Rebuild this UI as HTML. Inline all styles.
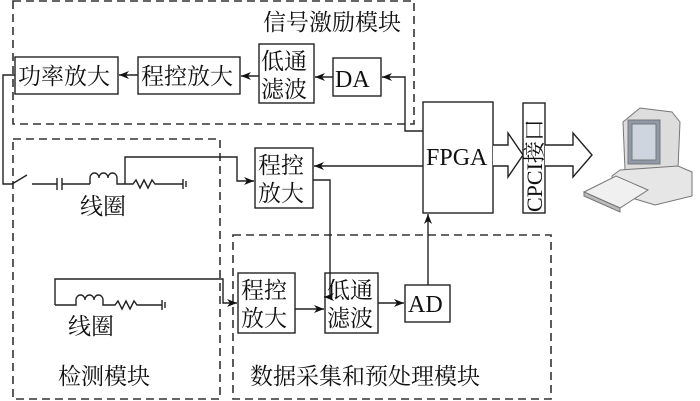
<!DOCTYPE html>
<html><head><meta charset="utf-8"><style>
body{margin:0;background:#fff}
svg{display:block}
text{font-family:"Liberation Serif","Noto Serif CJK SC",serif;fill:#111}
</style></head><body>
<svg width="700" height="401" viewBox="0 0 700 401" xmlns="http://www.w3.org/2000/svg">
<defs>
<marker id="a" markerWidth="10" markerHeight="8" refX="10" refY="4" orient="auto" markerUnits="userSpaceOnUse">
<path d="M0,0 L10,4 L0,8 L3,4 Z" fill="#111"/></marker>
</defs>
<g fill="none" stroke="#333" stroke-width="1.6" stroke-dasharray="8,5">
<rect x="13" y="1" width="401" height="123"/>
<rect x="13" y="139" width="207" height="260"/>
<rect x="233" y="235" width="318" height="164"/>
</g>
<g fill="#fff" stroke="#222" stroke-width="1.4">
<rect x="15" y="57" width="103" height="37"/>
<rect x="138" y="57" width="102" height="37"/>
<rect x="259" y="44" width="55" height="59"/>
<rect x="333" y="58" width="48" height="38"/>
<rect x="423" y="102" width="70" height="111"/>
<rect x="523" y="103" width="22" height="110"/>
<rect x="255" y="148" width="58" height="60"/>
<rect x="238" y="273" width="57" height="60"/>
<rect x="325" y="273" width="53" height="60"/>
<rect x="405" y="285" width="45" height="37"/>
</g>
<g fill="none" stroke="#222" stroke-width="1.4">
<path d="M138,75 H119" marker-end="url(#a)"/>
<path d="M259,76 H241" marker-end="url(#a)"/>
<path d="M333,77 H315" marker-end="url(#a)"/>
<path d="M423,131 H405 V77 H382" marker-end="url(#a)"/>
<path d="M15,75 H3 V184 H12 L27,175"/>
<path d="M32,184 H57 M57,178 V190 M62,178 V190 M62,184 H90"/>
<path d="M90,184 V178 a4.5,5 0 0 1 9,0 a4.5,5 0 0 1 9,0 a4.5,5 0 0 1 9,0 V184 H133 l3,-4 l4,8 l4,-8 l4,8 l4,-8 l3,4 H183 M183,179 V189 M186,181 V187"/>
<path d="M125,184 V157 H237 V181 H254" marker-end="url(#a)"/>
<path d="M423,166 H314" marker-end="url(#a)"/>
<path d="M313,180 H330 V297 H324" marker-end="url(#a)"/>
<path d="M295,309 H324" marker-end="url(#a)"/>
<path d="M378,303 H404" marker-end="url(#a)"/>
<path d="M428,285 V214" marker-end="url(#a)"/>
<path d="M55,305 V279 H223 V303 H237" marker-end="url(#a)"/>
<path d="M55,305 H76 V300 a4.5,5 0 0 1 9,0 a4.5,5 0 0 1 9,0 a4.5,5 0 0 1 9,0 V305 H115 l3,-4 l4,8 l4,-8 l4,8 l4,-8 l3,4 H162 M162,300 V310 M165,302 V308"/>
<path d="M493,145 H508 V133 L523,155 L508,177 V166 H493" fill="#fff"/>
<path d="M545,145 H573 V133 L592,155 L573,177 V166 H545" fill="#fff"/>
</g>
<g font-size="23">
<text x="263" y="30">信号激励模块</text>
<text x="18" y="84">功率放大</text>
<text x="141" y="84">程控放大</text>
<text x="261" y="69">低通</text>
<text x="261" y="97">滤波</text>
<text x="335" y="87" font-size="24">DA</text>
<text x="426" y="165" font-size="24">FPGA</text>
<text x="258" y="173">程控</text>
<text x="258" y="201">放大</text>
<text x="241" y="298">程控</text>
<text x="241" y="326">放大</text>
<text x="327" y="298">低通</text>
<text x="327" y="326">滤波</text>
<text x="408" y="312" font-size="24">AD</text>
<text x="80" y="214">线圈</text>
<text x="68" y="334">线圈</text>
<text x="58" y="384">检测模块</text>
<text x="250" y="384">数据采集和预处理模块</text>
<text transform="translate(542,212) rotate(-90)" font-size="22">CPCI接口</text>
</g>
<g stroke="#777" stroke-width="1">
<path d="M623,122 L640,108 L672,112 L680,122 L678,168 L625,170 Z" fill="#ddd"/>
<rect x="628" y="120" width="32" height="44" fill="#8f99a8"/>
<rect x="632" y="124" width="24" height="36" fill="#cfd5de"/>
<path d="M620,170 L612,176 L612,192 L655,205 L692,196 L692,172 L678,166 Z" fill="#e6e6e6"/>
<path d="M584,192 L616,176 L648,190 L620,208 Z" fill="#f0f0f0"/>
<path d="M584,192 L620,208 L620,212 L584,196 Z" fill="#bbb"/>
</g>
</svg>
</body></html>
